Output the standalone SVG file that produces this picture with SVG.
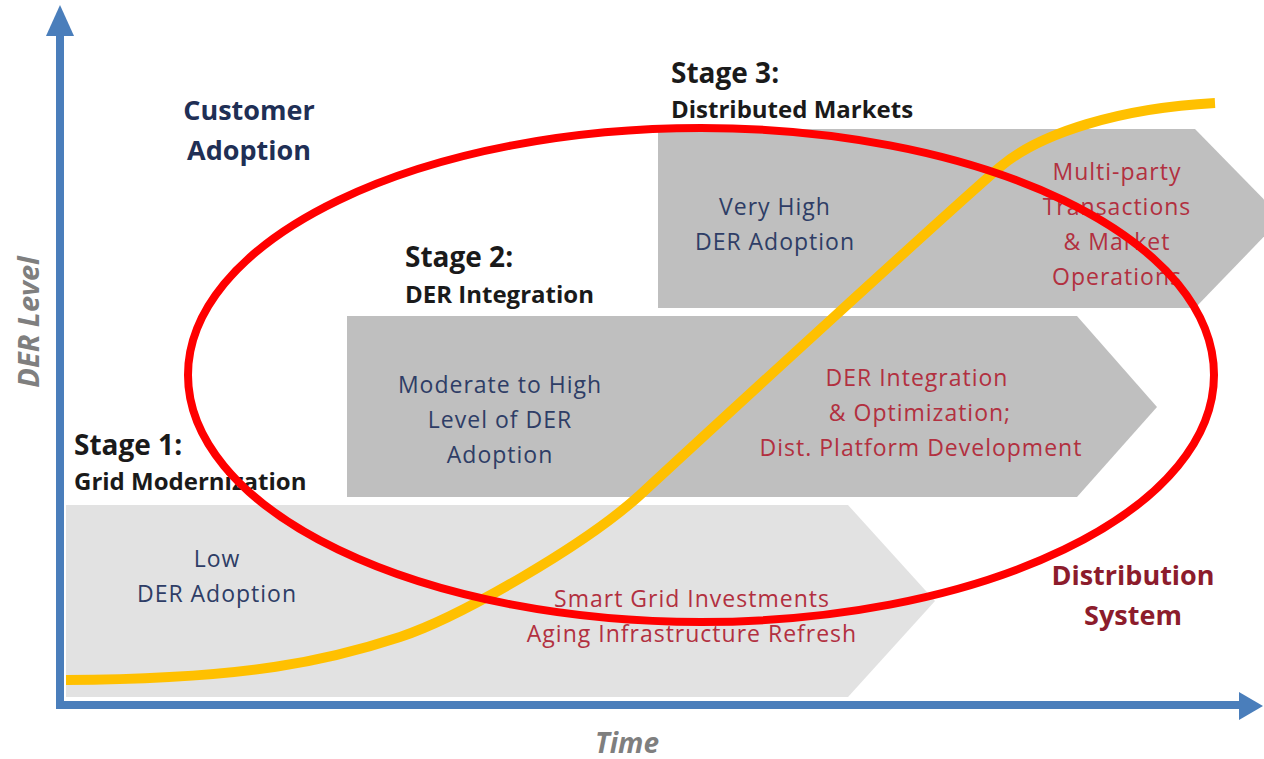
<svg xmlns="http://www.w3.org/2000/svg" width="1264" height="759" viewBox="0 0 1264 759">
<style>
.body{font-family:"Open Sans","Liberation Sans",sans-serif;font-size:23px;letter-spacing:1px;text-anchor:middle}
.blue{fill:#2e3d66}
.red{fill:#b23040}
.stage{font-family:"Open Sans","Liberation Sans",sans-serif;font-weight:bold;fill:#1a1a1a}
.big{font-family:"Open Sans","Liberation Sans",sans-serif;font-weight:bold;font-size:27px;text-anchor:middle}
.axislbl{font-family:"Open Sans","Liberation Sans",sans-serif;font-weight:bold;font-style:italic;fill:#7f7f7f;text-anchor:middle}
</style>
<rect width="1264" height="759" fill="#ffffff"/>
<g id="stage1">
<polygon points="66,505 848,505 935,601 848,697 66,697" fill="#e2e2e2"/>
<text class="stage" x="74" y="455" font-size="28">Stage 1:</text>
<text class="stage" x="74" y="490" font-size="24">Grid Modernization</text>
<text class="body blue"><tspan x="217" y="567">Low</tspan><tspan x="217" y="602">DER Adoption</tspan></text>
<text class="body red"><tspan x="692" y="607">Smart Grid Investments</tspan><tspan x="692" y="642">Aging Infrastructure Refresh</tspan></text>
</g>
<g id="stage2">
<polygon points="347,316 1077,316 1157,407 1077,497 347,497" fill="#bfbfbf"/>
<text class="stage" x="405" y="267" font-size="28">Stage 2:</text>
<text class="stage" x="405" y="303" font-size="24">DER Integration</text>
<text class="body blue"><tspan x="500" y="393">Moderate to High</tspan><tspan x="500" y="428">Level of DER</tspan><tspan x="500" y="463">Adoption</tspan></text>
<text class="body red"><tspan x="917" y="386">DER Integration</tspan><tspan x="920" y="421">&amp; Optimization;</tspan><tspan x="921" y="456">Dist. Platform Development</tspan></text>
</g>
<g id="stage3">
<polygon points="658,129 1195,129 1282,218 1195,308 658,308" fill="#bfbfbf"/>
<text class="stage" x="671" y="83" font-size="28">Stage 3:</text>
<text class="stage" x="671" y="118" font-size="24">Distributed Markets</text>
<text class="body blue"><tspan x="775" y="215">Very High</tspan><tspan x="775" y="250">DER Adoption</tspan></text>
<text class="body red"><tspan x="1117" y="180">Multi-party</tspan><tspan x="1117" y="215">Transactions</tspan><tspan x="1117" y="250">&amp; Market</tspan><tspan x="1117" y="285">Operations</tspan></text>
</g>
<g id="curve">
<path d="M66,680 C250,679 330,660 400,637 C460,617 585,545 640,495 C720,421 950,210 1000,167 C1040,133 1120,108 1215,103" fill="none" stroke="#ffc000" stroke-width="10" stroke-linecap="butt"/>
</g>
<g id="axes">
<path d="M60,30 L60,705 L1242,705" fill="none" stroke="#4a7ebb" stroke-width="8"/>
<polygon points="60,5 46,36 74,36" fill="#4a7ebb"/>
<polygon points="1263,706 1239,692 1239,720" fill="#4a7ebb"/>
<text class="axislbl" x="627" y="753" font-size="28">Time</text>
<text class="axislbl" transform="translate(39,322) rotate(-90)" x="0" y="0" font-size="29">DER Level</text>
</g>
<g id="labels">
<text class="big" fill="#1f2f55"><tspan x="249" y="120">Customer</tspan><tspan x="249" y="160">Adoption</tspan></text>
<text class="big" fill="#8c1c2c"><tspan x="1133" y="585">Distribution</tspan><tspan x="1133" y="625">System</tspan></text>
</g>
<g id="highlight">
<ellipse cx="701" cy="375" rx="513" ry="247" fill="none" stroke="#ff0000" stroke-width="8"/>
</g>
</svg>
